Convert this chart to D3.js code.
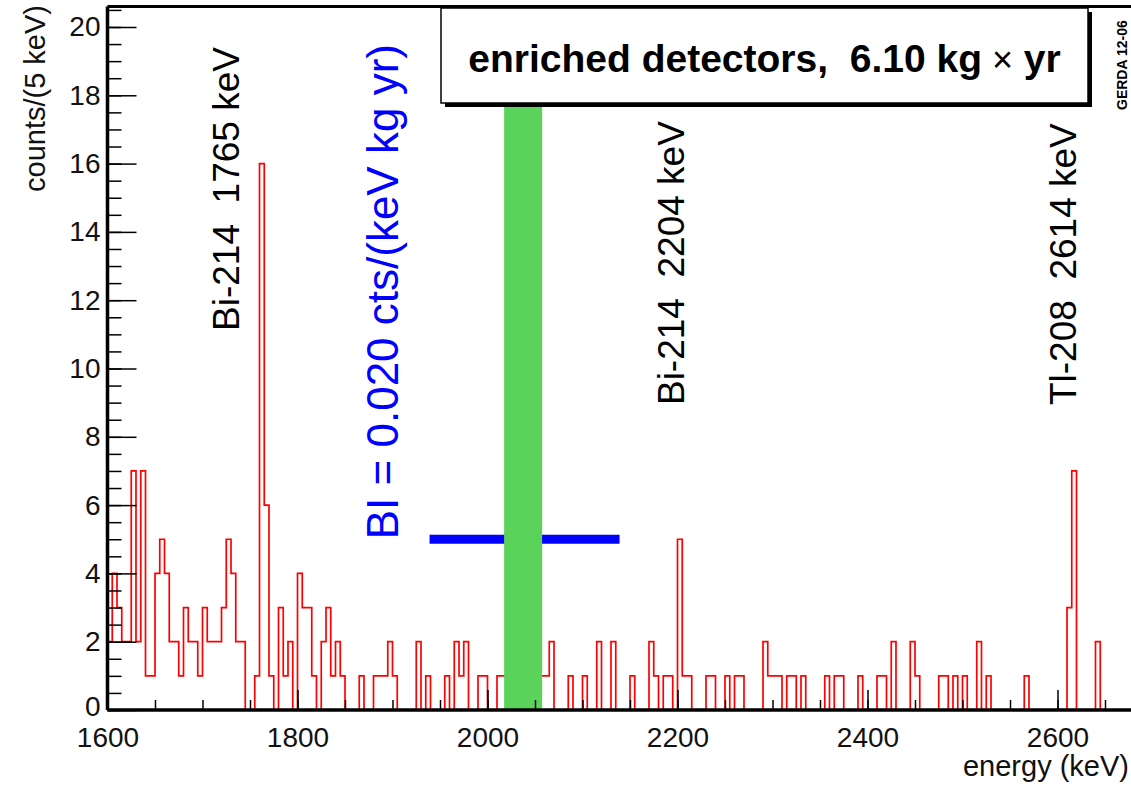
<!DOCTYPE html>
<html>
<head>
<meta charset="utf-8">
<script src="https://cdn.jsdelivr.net/npm/d3@7"></script>
<style>
  html, body { margin: 0; padding: 0; background: #fff; }
  svg { display: block; font-family: "Liberation Sans", Arial, Helvetica, sans-serif; }
  text { white-space: pre; }
</style>
</head>
<body>
<div id="chart"></div>
<script>
// spectrum, 5 keV bins starting at 1600 keV
var binStart = 1600;
var binWidth = 5;
var counts = [
    2, 4, 3, 2, 2, 7, 2, 7, 1, 1,     // 1600
    4, 5, 4, 2, 2, 1, 3, 2, 2, 1,     // 1650
    3, 2, 2, 2, 3, 5, 4, 2, 2, 0,     // 1700
    0, 1, 16, 6, 1, 0, 3, 1, 2, 0,    // 1750
    4, 3, 3, 1, 0, 2, 3, 1, 2, 1,     // 1800
    0, 0, 0, 1, 0, 0, 1, 1, 1, 2,     // 1850
    1, 0, 0, 0, 0, 2, 0, 1, 0, 0,     // 1900
    0, 1, 0, 2, 1, 2, 0, 0, 1, 1,     // 1950
    0, 0, 1, 1, 0, 0, 0, 0, 0, 0,     // 2000
    0, 1, 1, 2, 0, 0, 0, 1, 0, 0,     // 2050
    1, 0, 0, 2, 0, 0, 2, 0, 0, 0,     // 2100
    1, 0, 0, 0, 2, 1, 0, 1, 1, 0,     // 2150
    5, 1, 1, 0, 0, 0, 1, 1, 0, 0,     // 2200
    1, 0, 1, 1, 0, 0, 0, 0, 2, 1,     // 2250
    1, 1, 0, 1, 1, 0, 1, 0, 0, 0,     // 2300
    0, 1, 0, 1, 1, 0, 0, 0, 1, 0,     // 2350
    0, 0, 1, 1, 0, 2, 0, 0, 0, 2,     // 2400
    1, 0, 0, 0, 0, 1, 1, 0, 1, 0,     // 2450
    1, 0, 0, 2, 0, 1, 0, 0, 0, 0,     // 2500
    0, 0, 0, 1, 0, 0, 0, 0, 0, 0,     // 2550
    0, 0, 3, 7, 0, 0, 0, 0, 2, 0,     // 2600
    0, 0, 0, 0, 0, 0                  // 2650
];

var xTicks = [1600, 1800, 2000, 2200, 2400, 2600];
var yTicks = [0, 2, 4, 6, 8, 10, 12, 14, 16, 18, 20];

var blindWindow = [2017.5, 2057.5];     // green band
var biWindow = [1939, 2139];            // blue bar
var biLevel = 5;

var peakLabels = ["Bi-214  1765 keV", "Bi-214  2204 keV", "Tl-208  2614 keV"];
var biLabel = "BI = 0.020 cts/(keV kg yr)";
var boxLabel = "enriched detectors,  6.10 kg";
var boxUnit = " yr";
var xTitle = "energy (keV)";
var yTitle = "counts/(5 keV)";
var stamp = "GERDA 12-06";

var width = 1131, height = 787;

var svg = d3.select("#chart").append("svg")
    .attr("width", width)
    .attr("height", height);

var x = d3.scaleLinear()
    .domain([1600, 2700])
    .range([107.5, 1152.5]);

var y = d3.scaleLinear()
    .domain([0, 20.6])
    .range([710, 6.5]);

// histogram outline
var pts = [[binStart, 0]];
counts.forEach(function(c, i) { pts.push([binStart + i * binWidth, c]); });
pts.push([binStart + counts.length * binWidth, 0]);

var line = d3.line()
    .x(function(d) { return x(d[0]); })
    .y(function(d) { return y(d[1]); })
    .curve(d3.curveStepAfter);

svg.append("path")
    .datum(pts)
    .attr("d", line)
    .attr("fill", "none")
    .attr("stroke", "#ff0000")
    .attr("stroke-width", 1.7);

// BI bar
svg.append("line")
    .attr("x1", x(biWindow[0]))
    .attr("x2", x(biWindow[1]))
    .attr("y1", y(biLevel))
    .attr("y2", y(biLevel))
    .attr("stroke", "#0000ff")
    .attr("stroke-width", 9);

// blinded window
svg.append("rect")
    .attr("x", x(blindWindow[0]))
    .attr("width", x(blindWindow[1]) - x(blindWindow[0]))
    .attr("y", y(20.6))
    .attr("height", y(0) - y(20.6))
    .attr("fill", "#5bd35b");

// axes
var yMinor = d3.axisLeft(y)
    .tickValues(d3.range(0, 20.51, 0.5))
    .tickSize(-14)
    .tickSizeOuter(0)
    .tickFormat("");
var yMajor = d3.axisLeft(y)
    .tickValues(yTicks)
    .tickSize(-29)
    .tickSizeOuter(0)
    .tickPadding(7)
    .tickFormat(d3.format("d"));
var xMinor = d3.axisBottom(x)
    .tickValues(d3.range(1600, 2701, 50))
    .tickSize(-10)
    .tickSizeOuter(0)
    .tickFormat("");
var xMajor = d3.axisBottom(x)
    .tickValues(xTicks)
    .tickSize(-20)
    .tickSizeOuter(0)
    .tickPadding(17)
    .tickFormat(d3.format("d"));

function styleAxis(g) {
    g.select(".domain").remove();
    g.selectAll(".tick line").attr("stroke", "#000").attr("stroke-width", 1.5);
    g.selectAll(".tick text")
        .attr("fill", "#111")
        .style("font-size", "28px")
        .style("font-family", "'Liberation Sans', Arial, sans-serif");
}

svg.append("g").attr("transform", "translate(" + x(1600) + ",0)").call(yMinor).call(styleAxis);
svg.append("g").attr("transform", "translate(" + x(1600) + ",0)").call(yMajor).call(styleAxis);
svg.append("g").attr("transform", "translate(0," + y(0) + ")").call(xMinor).call(styleAxis);
svg.append("g").attr("transform", "translate(0," + y(0) + ")").call(xMajor).call(styleAxis);

// nudge the zero label up a little so it clears "1600"
svg.selectAll(".tick text").filter(function(d) { return d === 0; }).attr("dy", "0.2em");

// frame lines
svg.append("line")
    .attr("x1", x(1600)).attr("x2", width)
    .attr("y1", y(0)).attr("y2", y(0))
    .attr("stroke", "#000").attr("stroke-width", 3.5);
svg.append("line")
    .attr("x1", x(1600)).attr("x2", x(1600))
    .attr("y1", y(20.6)).attr("y2", y(0))
    .attr("stroke", "#000").attr("stroke-width", 3.5);
svg.append("line")
    .attr("x1", x(1600)).attr("x2", width)
    .attr("y1", y(20.6)).attr("y2", y(20.6))
    .attr("stroke", "#000").attr("stroke-width", 3);

// legend box with shadow
var box = { x0: 441, y0: 8, x1: 1088, y1: 103 };
svg.append("rect")
    .attr("x", box.x0 + 4).attr("y", box.y0 + 4)
    .attr("width", box.x1 - box.x0).attr("height", box.y1 - box.y0)
    .attr("fill", "#000");
svg.append("rect")
    .attr("x", box.x0).attr("y", box.y0)
    .attr("width", box.x1 - box.x0).attr("height", box.y1 - box.y0)
    .attr("fill", "#fff")
    .attr("stroke", "#000")
    .attr("stroke-width", 1.5);
var bt = svg.append("text")
    .attr("x", (box.x0 + box.x1) / 2)
    .attr("y", 72)
    .attr("text-anchor", "middle")
    .style("font-size", "39px")
    .style("font-weight", "bold")
    .attr("fill", "#000");
bt.append("tspan").text(boxLabel);
bt.append("tspan").style("font-weight", "normal").style("font-size", "36px").text(" \u00d7");
bt.append("tspan").text(boxUnit);

// rotated annotations
function vtext(tx, ty, str, size, color) {
    return svg.append("text")
        .attr("transform", "translate(" + tx + "," + ty + ") rotate(-90)")
        .attr("text-anchor", "start")
        .style("font-size", size + "px")
        .attr("fill", color)
        .text(str);
}

vtext(x(1765) - 25, y(11.1), peakLabels[0], 37, "#000");
vtext(x(2204) + 3, y(8.93), peakLabels[1], 37, "#000");
vtext(x(2614) + 5, y(8.93), peakLabels[2], 37, "#000");
vtext(x(biWindow[0]) - 32, y(biLevel), biLabel, 44, "#0000ff");

// axis titles
svg.append("text")
    .attr("transform", "translate(45,5) rotate(-90)")
    .attr("text-anchor", "end")
    .style("font-size", "29px")
    .attr("fill", "#111")
    .text(yTitle);
svg.append("text")
    .attr("x", 1129)
    .attr("y", 776)
    .attr("text-anchor", "end")
    .style("font-size", "29px")
    .attr("fill", "#111")
    .text(xTitle);

svg.append("text")
    .attr("transform", "translate(1127,110) rotate(-90)")
    .attr("text-anchor", "start")
    .style("font-size", "14px")
    .style("font-weight", "bold")
    .attr("fill", "#000")
    .text(stamp);
</script>
</body>
</html>
